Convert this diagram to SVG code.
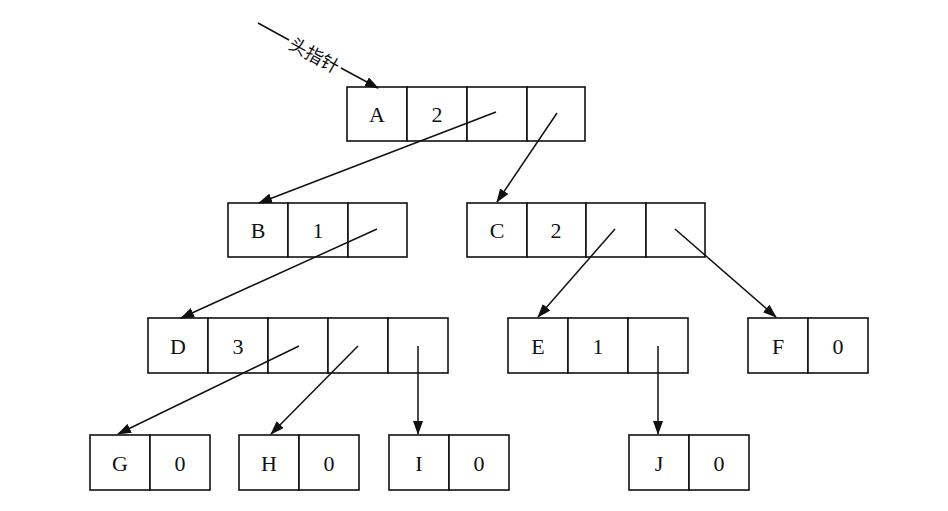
<svg xmlns="http://www.w3.org/2000/svg" width="948" height="511" viewBox="0 0 948 511">
<style>
.c{fill:#fff;stroke:#111;stroke-width:1.6}
.t{font-family:"Liberation Serif",serif;font-size:22px;fill:#111;text-anchor:middle;dominant-baseline:central}
.e{fill:none;stroke:#111;stroke-width:1.5}
.h{font-family:"Noto Sans CJK SC",sans-serif;font-size:18px;fill:#111;text-anchor:middle;dominant-baseline:central}
</style>
<defs>
<marker id="ar" markerUnits="userSpaceOnUse" markerWidth="14" markerHeight="10" refX="13" refY="5" orient="auto">
<path d="M0,0 L14,5 L0,10 Z" fill="#111"/>
</marker>
</defs>
<rect width="948" height="511" fill="#fff"/>
<g id="A">
<rect class="c" x="347" y="87" width="60" height="54"/><rect class="c" x="407" y="87" width="60" height="54"/><rect class="c" x="467" y="87" width="60" height="54"/><rect class="c" x="527" y="87" width="58" height="54"/>
<text class="t" x="377" y="114">A</text><text class="t" x="437" y="114">2</text>
</g>
<g id="B">
<rect class="c" x="228" y="203" width="60" height="54"/><rect class="c" x="288" y="203" width="60" height="54"/><rect class="c" x="348" y="203" width="59" height="54"/>
<text class="t" x="258" y="230">B</text><text class="t" x="318" y="230">1</text>
</g>
<g id="C">
<rect class="c" x="467" y="203" width="60" height="54"/><rect class="c" x="527" y="203" width="59" height="54"/><rect class="c" x="586" y="203" width="60" height="54"/><rect class="c" x="646" y="203" width="59" height="54"/>
<text class="t" x="497" y="230">C</text><text class="t" x="556" y="230">2</text>
</g>
<g id="D">
<rect class="c" x="148" y="318" width="60" height="55"/><rect class="c" x="208" y="318" width="60" height="55"/><rect class="c" x="268" y="318" width="60" height="55"/><rect class="c" x="328" y="318" width="60" height="55"/><rect class="c" x="388" y="318" width="60" height="55"/>
<text class="t" x="178" y="346">D</text><text class="t" x="238" y="346">3</text>
</g>
<g id="E">
<rect class="c" x="508" y="318" width="60" height="55"/><rect class="c" x="568" y="318" width="60" height="55"/><rect class="c" x="628" y="318" width="60" height="55"/>
<text class="t" x="538" y="346">E</text><text class="t" x="598" y="346">1</text>
</g>
<g id="F">
<rect class="c" x="748" y="318" width="60" height="55"/><rect class="c" x="808" y="318" width="60" height="55"/>
<text class="t" x="778" y="346">F</text><text class="t" x="838" y="346">0</text>
</g>
<g id="G">
<rect class="c" x="90" y="435" width="60" height="55"/><rect class="c" x="150" y="435" width="60" height="55"/>
<text class="t" x="120" y="463">G</text><text class="t" x="180" y="463">0</text>
</g>
<g id="H">
<rect class="c" x="239" y="435" width="60" height="55"/><rect class="c" x="299" y="435" width="60" height="55"/>
<text class="t" x="269" y="463">H</text><text class="t" x="329" y="463">0</text>
</g>
<g id="I">
<rect class="c" x="389" y="435" width="60" height="55"/><rect class="c" x="449" y="435" width="60" height="55"/>
<text class="t" x="419" y="463">I</text><text class="t" x="479" y="463">0</text>
</g>
<g id="J">
<rect class="c" x="629" y="435" width="60" height="55"/><rect class="c" x="689" y="435" width="60" height="55"/>
<text class="t" x="659" y="463">J</text><text class="t" x="719" y="463">0</text>
</g>
<g id="connectors">
<line class="e" x1="258" y1="23" x2="289" y2="40"/>
<line class="e" x1="341" y1="68" x2="378" y2="88" marker-end="url(#ar)"/>
<text class="h" x="315" y="54" transform="rotate(29 315 54)">头指针</text>
<line class="e" x1="496" y1="112" x2="259" y2="203" marker-end="url(#ar)"/>
<line class="e" x1="557" y1="113" x2="497" y2="202" marker-end="url(#ar)"/>
<line class="e" x1="377" y1="229" x2="181" y2="318" marker-end="url(#ar)"/>
<line class="e" x1="615" y1="229" x2="538" y2="317" marker-end="url(#ar)"/>
<line class="e" x1="675" y1="229" x2="776" y2="317" marker-end="url(#ar)"/>
<line class="e" x1="299" y1="346" x2="118" y2="434" marker-end="url(#ar)"/>
<line class="e" x1="358" y1="346" x2="271" y2="434" marker-end="url(#ar)"/>
<line class="e" x1="418" y1="346" x2="418" y2="434" marker-end="url(#ar)"/>
<line class="e" x1="658" y1="346" x2="658" y2="434" marker-end="url(#ar)"/>
</g>
</svg>
